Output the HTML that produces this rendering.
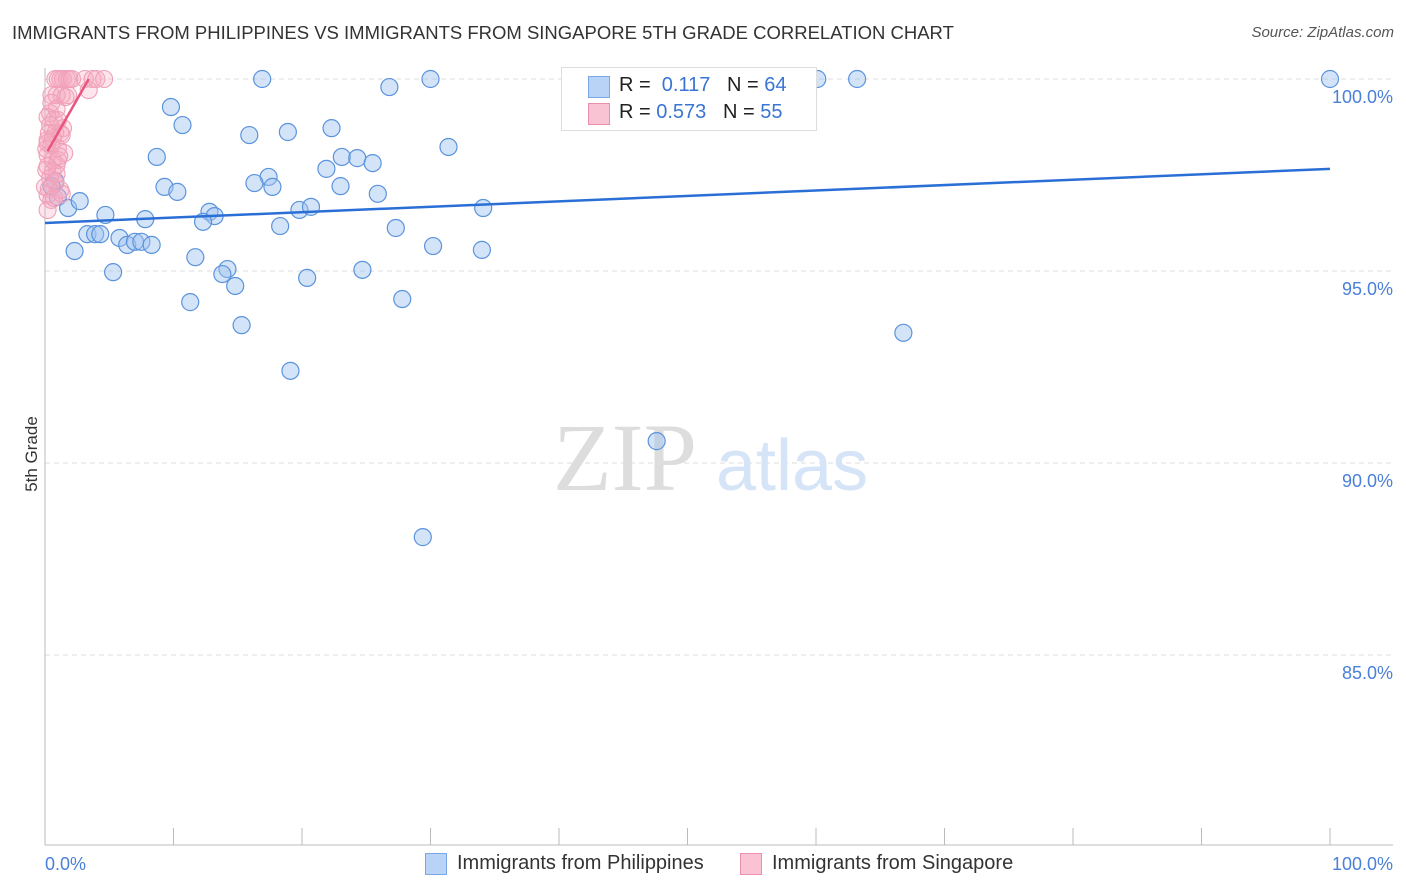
<!DOCTYPE html>
<html><head><meta charset="utf-8"><style>
body{margin:0;background:#fff;font-family:"Liberation Sans",sans-serif;}
#wrap{position:relative;width:1406px;height:892px;overflow:hidden;}
.t{position:absolute;white-space:nowrap;}
</style></head><body>
<div id="wrap">
<div class="t" style="left:12px;top:22px;font-size:18.5px;color:#333;">IMMIGRANTS FROM PHILIPPINES VS IMMIGRANTS FROM SINGAPORE 5TH GRADE CORRELATION CHART</div>
<div class="t" style="right:12px;top:24px;font-size:15px;color:#555;font-style:italic;">Source: ZipAtlas.com</div>
<div class="t" style="left:-6px;top:444px;font-size:17px;color:#333;transform:rotate(-90deg);">5th Grade</div>
<svg id="plot" width="1406" height="892" style="position:absolute;left:0;top:0"></svg>
<div style="position:absolute;left:561px;top:67px;width:254px;height:62px;border:1px solid #ddd;background:#fff;">
 <div style="position:absolute;left:26px;top:8px;width:20px;height:20px;background:#b8d3f5;border:1px solid #7aa7e6;"></div>
 <div class="t" style="left:57px;top:6px;font-size:20px;color:#222;">R = &nbsp;<span style="color:#3a74d4">0.117</span> &nbsp; N = <span style="color:#3a74d4">64</span></div>
 <div style="position:absolute;left:26px;top:35px;width:20px;height:20px;background:#f9c3d3;border:1px solid #ec8fac;"></div>
 <div class="t" style="left:57px;top:33px;font-size:20px;color:#222;">R = <span style="color:#3a74d4">0.573</span> &nbsp; N = <span style="color:#3a74d4">55</span></div>
</div>
<div style="position:absolute;left:425px;top:853px;">
 <div style="position:absolute;left:0;top:0;width:20px;height:20px;background:#b8d3f5;border:1px solid #7aa7e6;"></div>
 <div class="t" style="left:32px;top:-1px;font-size:20px;color:#333;">Immigrants from Philippines</div></div>
<div style="position:absolute;left:740px;top:853px;">
 <div style="position:absolute;left:0;top:0;width:20px;height:20px;background:#f9c3d3;border:1px solid #ec8fac;"></div>
 <div class="t" style="left:32px;top:-1px;font-size:20px;color:#333;">Immigrants from Singapore</div></div>
</div>
<script>
const blueX=[16.9,26.8,30.0,60.1,63.2,100,9.8,10.7,15.9,18.9,22.3,31.4,8.7,17.4,16.3,21.9,23.1,24.3,25.5,9.3,10.3,17.7,23.0,25.9,0.8,1.0,1.8,2.7,4.7,7.8,12.8,13.2,12.3,18.3,19.8,20.7,27.3,34.1,3.3,3.9,4.3,5.8,6.4,7.0,7.5,8.3,2.3,30.2,34.0,5.3,11.7,14.2,13.8,14.8,20.4,24.7,11.3,27.8,15.3,66.8,19.1,47.6,29.4,0.5];
const blueY=[100,99.79,100,100,100,100,99.27,98.8,98.54,98.62,98.72,98.23,97.97,97.45,97.29,97.66,97.97,97.94,97.81,97.19,97.06,97.19,97.21,97.01,97.34,96.93,96.64,96.82,96.46,96.35,96.54,96.43,96.28,96.17,96.59,96.67,96.12,96.64,95.96,95.96,95.96,95.86,95.68,95.76,95.76,95.68,95.52,95.65,95.55,94.97,95.36,95.05,94.92,94.61,94.82,95.03,94.19,94.27,93.59,93.39,92.4,90.57,88.07,97.21];
const blueLine=[[0,96.25],[100,97.66]];
const pinkX=[0.8,1.0,1.2,1.4,1.7,1.9,3.1,3.7,4.0,4.6,3.4,0.5,0.9,1.3,1.8,0.4,0.7,1.0,1.4,0.3,0.8,1.2,0.2,0.5,1.0,1.5,0.2,0.6,0.9,0.1,0.4,0.8,1.2,0.2,0.5,0.2,1.0,0.4,0.1,0.3,0.6,0.9,0.0,1.3,0.5,0.9,0.2,0.6,1.1,0.2,1.3,0.7,0.2,1.6,2.1];
const pinkY=[100,100,100,100,100,100,100,100,100,100,99.71,99.58,99.58,99.58,99.58,99.11,98.93,98.93,98.72,98.59,98.59,98.59,98.41,98.28,98.2,98.07,98.02,97.89,97.76,97.63,97.42,97.29,97.11,96.98,96.85,96.59,97.89,98.8,98.18,97.14,97.58,97.53,97.19,98.54,99.38,99.22,99.01,98.46,97.99,97.73,97.01,96.9,98.33,99.53,100];
const pinkLine=[[0.2,98.12],[3.4,100]];
const ticksY=[100,95,90,85];
const tickLabelsY=["100.0%","95.0%","90.0%","85.0%"];
const ticksX=[0,10,20,30,40,50,60,70,80,90,100];
const sx=v=>45+v*12.85, sy=v=>79+(100-v)*38.4;
const svg=document.getElementById('plot'), NS='http://www.w3.org/2000/svg';
function mk(tag,attrs,parent){const e=document.createElementNS(NS,tag);for(const k in attrs)e.setAttribute(k,attrs[k]);(parent||svg).appendChild(e);return e;}
ticksY.forEach((v,i)=>{
 const g=mk('line',{x1:45,x2:1393,y1:sy(v),y2:sy(v),stroke:'#ddd','stroke-dasharray':'5,4'});
 
 
 const t=mk('text',{x:1393,y:sy(v)+24,'text-anchor':'end','font-size':18,fill:'#4a80d8','font-family':'Liberation Sans'});
 t.textContent=tickLabelsY[i];
 
 
});
mk('line',{x1:45,x2:45,y1:68,y2:845,stroke:'#bbb'});
mk('line',{x1:45,x2:1393,y1:845,y2:845,stroke:'#bbb'});
ticksX.forEach(v=>{const l=mk('line',{x1:sx(v),x2:sx(v),y1:828,y2:845,stroke:'#bbb'});
 
 });
const xl0=mk('text',{x:45,y:870,'font-size':18,fill:'#4a80d8','font-family':'Liberation Sans'});xl0.textContent='0.0%';


const xl1=mk('text',{x:1393,y:870,'text-anchor':'end','font-size':18,fill:'#4a80d8','font-family':'Liberation Sans'});xl1.textContent='100.0%';


const w1=mk('text',{x:553,y:490,'font-size':96,fill:'#ddd','font-family':'Liberation Serif'});w1.textContent='ZIP';


const w2=mk('text',{x:716,y:490,'font-size':72,fill:'#d6e4f7','font-family':'Liberation Sans'});w2.textContent='atlas';


blueX.forEach((x,i)=>{const c=mk('circle',{cx:sx(x),cy:sy(blueY[i]),r:8.5,fill:'rgba(160,196,240,0.45)',stroke:'#5b93dd','stroke-width':1.2});
 
 });
pinkX.forEach((x,i)=>{const c=mk('circle',{cx:sx(x),cy:sy(pinkY[i]),r:8.5,fill:'rgba(245,170,192,0.3)',stroke:'#f0a0b8','stroke-width':1.1});
 
 });
const bl=mk('line',{x1:sx(blueLine[0][0]),y1:sy(blueLine[0][1]),x2:sx(blueLine[1][0]),y2:sy(blueLine[1][1]),stroke:'#2a6fd6','stroke-width':2.5});


const pl=mk('line',{x1:sx(pinkLine[0][0]),y1:sy(pinkLine[0][1]),x2:sx(pinkLine[1][0]),y2:sy(pinkLine[1][1]),stroke:'#e8557f','stroke-width':2.5});


</script>
</body></html>
